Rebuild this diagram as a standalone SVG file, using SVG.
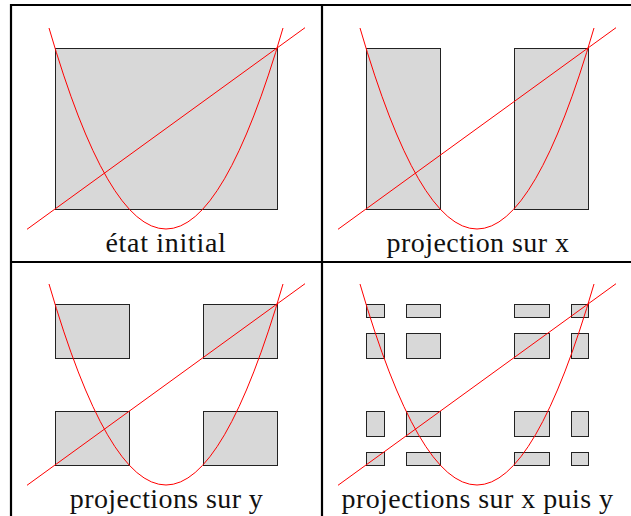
<svg xmlns="http://www.w3.org/2000/svg" width="631" height="516" viewBox="0 0 631 516">
<defs>
<g id="curves" fill="none" stroke="#ff0000" stroke-width="1">
<path d="M27,229.3 L305,27.7"/>
<path d="M49,28 Q166,430 283,28"/>
</g>
</defs>
<g id="frame" stroke="#000" stroke-width="2.2" fill="none">
<line x1="10" y1="5" x2="631" y2="5"/>
<line x1="11" y1="4" x2="11" y2="516"/>
<line x1="322" y1="4" x2="322" y2="516"/>
<line x1="10" y1="262" x2="631" y2="262"/>
</g>
<g id="panel-initial">
<g fill="#d8d8d8" stroke="#222" stroke-width="1">
<rect x="55.5" y="48.5" width="222" height="161"/>
</g>
<use href="#curves"/>
<text x="166" y="252" style="font-family:'Liberation Serif','Times New Roman',serif;font-size:28px;text-anchor:middle;letter-spacing:0.7px;fill:#111">état initial</text>
</g>
<g id="panel-proj-x">
<g transform="translate(311,0)">
<g fill="#d8d8d8" stroke="#222" stroke-width="1">
<rect x="55.5" y="48.5" width="74" height="161"/>
<rect x="203.5" y="48.5" width="74" height="161"/>
</g>
<use href="#curves"/>
</g>
<text x="478" y="252" style="font-family:'Liberation Serif','Times New Roman',serif;font-size:28px;text-anchor:middle;letter-spacing:0.45px;fill:#111">projection sur x</text>
</g>
<g id="panel-proj-y">
<g transform="translate(0,256)">
<g fill="#d8d8d8" stroke="#222" stroke-width="1">
<rect x="55.5" y="48.5" width="74" height="54"/>
<rect x="203.5" y="48.5" width="74" height="54"/>
<rect x="55.5" y="155.5" width="74" height="54"/>
<rect x="203.5" y="155.5" width="74" height="54"/>
</g>
<use href="#curves"/>
</g>
<text x="166.5" y="508" style="font-family:'Liberation Serif','Times New Roman',serif;font-size:28px;text-anchor:middle;letter-spacing:0.4px;fill:#111">projections sur y</text>
</g>
<g id="panel-proj-xy">
<g transform="translate(311,256)">
<g fill="#d8d8d8" stroke="#222" stroke-width="1">
<rect x="55.5" y="48.5" width="18" height="13"/>
<rect x="95.5" y="48.5" width="34" height="13"/>
<rect x="203.5" y="48.5" width="35" height="13"/>
<rect x="260.5" y="48.5" width="17" height="13"/>
<rect x="55.5" y="77.5" width="18" height="25"/>
<rect x="95.5" y="77.5" width="34" height="25"/>
<rect x="203.5" y="77.5" width="35" height="25"/>
<rect x="260.5" y="77.5" width="17" height="25"/>
<rect x="55.5" y="155.5" width="18" height="25"/>
<rect x="95.5" y="155.5" width="34" height="25"/>
<rect x="203.5" y="155.5" width="35" height="25"/>
<rect x="260.5" y="155.5" width="17" height="25"/>
<rect x="55.5" y="196.5" width="18" height="13"/>
<rect x="95.5" y="196.5" width="34" height="13"/>
<rect x="203.5" y="196.5" width="35" height="13"/>
<rect x="260.5" y="196.5" width="17" height="13"/>
</g>
<use href="#curves"/>
</g>
<text x="477.5" y="508" style="font-family:'Liberation Serif','Times New Roman',serif;font-size:28px;text-anchor:middle;letter-spacing:0.45px;fill:#111">projections sur x puis y</text>
</g>
</svg>
